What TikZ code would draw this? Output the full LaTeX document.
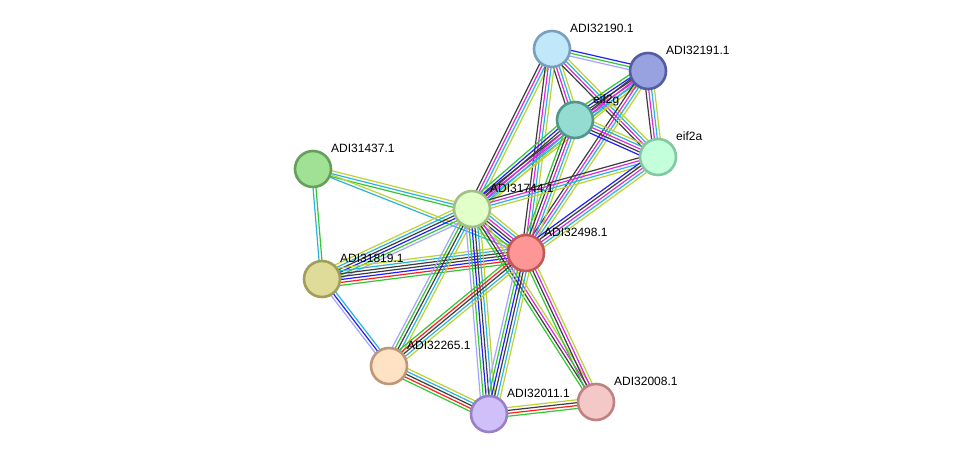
\documentclass[tikz,border=0pt]{standalone}
\usepackage{fontspec}
\setmainfont{Liberation Sans}
\usetikzlibrary{calc, backgrounds}
\definecolor{nbgreen}{RGB}{50, 200, 50}
\definecolor{fusred}{RGB}{255, 30, 30}
\definecolor{cooblue}{RGB}{30, 30, 255}
\definecolor{coexgray}{RGB}{60, 60, 60}
\definecolor{expmag}{RGB}{220, 40, 220}
\definecolor{dbcyan}{RGB}{40, 180, 220}
\definecolor{txtlime}{RGB}{190, 210, 50}
\definecolor{homlav}{RGB}{165, 165, 255}

% one STRING edge: a bundle of parallel coloured lines
\newcommand{\stredge}[3]{%
  \foreach \col [count=\i] in {#3} {\xdef\nlines{\i}}%
  \foreach \col [count=\i] in {#3} {%
    \pgfmathsetmacro\off{(\i-1-(\nlines-1)/2)*2.9}%
    \draw[link, color=\col] ($(#1)!\off pt!90:(#2)$) -- ($(#2)!\off pt!-90:(#1)$);
  }%
}

\begin{document}
\begin{tikzpicture}[
  x=1pt, y=-1pt,
  font=\fontsize{12}{14}\selectfont,
  prot/.style={circle, minimum size=36pt, inner sep=0pt, line width=2.6pt},
  lbl/.style={anchor=base west, inner sep=0pt},
  link/.style={line width=1.2pt}
]
\useasboundingbox (0,0) rectangle (975,460);

\node[prot, fill={rgb,255:red,192;green,232;blue,250}, draw={rgb,255:red,120;green,160;blue,190}] (p32190) at (552,49) {};
\node[prot, fill={rgb,255:red,152;green,162;blue,225}, draw={rgb,255:red,82;green,92;blue,160}] (p32191) at (648,71) {};
\node[prot, fill={rgb,255:red,148;green,220;blue,210}, draw={rgb,255:red,82;green,150;blue,140}] (eif2g) at (575,120) {};
\node[prot, fill={rgb,255:red,195;green,255;blue,218}, draw={rgb,255:red,130;green,200;blue,160}] (eif2a) at (658,157) {};
\node[prot, fill={rgb,255:red,160;green,225;blue,150}, draw={rgb,255:red,100;green,160;blue,90}] (p31437) at (313,169) {};
\node[prot, fill={rgb,255:red,225;green,255;blue,200}, draw={rgb,255:red,162;green,192;blue,132}] (p31744) at (472,209) {};
\node[prot, fill={rgb,255:red,255;green,150;blue,150}, draw={rgb,255:red,192;green,90;blue,90}] (p32498) at (526,253) {};
\node[prot, fill={rgb,255:red,222;green,220;blue,152}, draw={rgb,255:red,160;green,158;blue,90}] (p31819) at (322,279) {};
\node[prot, fill={rgb,255:red,255;green,225;blue,195}, draw={rgb,255:red,190;green,150;blue,120}] (p32265) at (389,366) {};
\node[prot, fill={rgb,255:red,208;green,192;blue,250}, draw={rgb,255:red,150;green,128;blue,200}] (p32011) at (489,414) {};
\node[prot, fill={rgb,255:red,245;green,200;blue,200}, draw={rgb,255:red,190;green,130;blue,130}] (p32008) at (596,402) {};

\node[lbl] (l32190) at ([shift={(18,-16.5)}]p32190.center) {ADI32190.1};
\node[lbl] (l32191) at ([shift={(18,-16.5)}]p32191.center) {ADI32191.1};
\node[lbl] (leif2g) at ([shift={(18,-16.5)}]eif2g.center) {eif2g};
\node[lbl] (leif2a) at ([shift={(18,-16.5)}]eif2a.center) {eif2a};
\node[lbl] (l31437) at ([shift={(18,-16.5)}]p31437.center) {ADI31437.1};
\node[lbl] (l31744) at ([shift={(18,-16.5)}]p31744.center) {ADI31744.1};
\node[lbl] (l32498) at ([shift={(18,-16.5)}]p32498.center) {ADI32498.1};
\node[lbl] (l31819) at ([shift={(18,-16.5)}]p31819.center) {ADI31819.1};
\node[lbl] (l32265) at ([shift={(18,-16.5)}]p32265.center) {ADI32265.1};
\node[lbl] (l32011) at ([shift={(18,-16.5)}]p32011.center) {ADI32011.1};
\node[lbl] (l32008) at ([shift={(18,-16.5)}]p32008.center) {ADI32008.1};

\begin{scope}[on background layer]
\fill[white] (0,0) rectangle (975,460);
\stredge{p32190}{p32191}{homlav, nbgreen, cooblue}
\stredge{p32190}{eif2g}{coexgray, expmag, dbcyan, txtlime}
\stredge{p32190}{eif2a}{coexgray, expmag, dbcyan, txtlime}
\stredge{p32190}{p31744}{coexgray, expmag, dbcyan, txtlime}
\stredge{p32190}{p32498}{coexgray, expmag, dbcyan, txtlime}
\stredge{p32191}{eif2g}{nbgreen, cooblue, coexgray, expmag, dbcyan, txtlime}
\stredge{p32191}{eif2a}{coexgray, expmag, dbcyan, txtlime}
\stredge{p32191}{p31744}{coexgray, expmag, dbcyan, txtlime}
\stredge{p32191}{p32498}{coexgray, expmag, dbcyan, txtlime}
\stredge{eif2g}{eif2a}{cooblue, coexgray, expmag, dbcyan, txtlime}
\stredge{eif2g}{p31744}{nbgreen, cooblue, coexgray, expmag, dbcyan, txtlime}
\stredge{eif2g}{p32498}{nbgreen, coexgray, expmag, dbcyan, txtlime}
\stredge{eif2a}{p31744}{coexgray, expmag, dbcyan, txtlime}
\stredge{eif2a}{p32498}{cooblue, coexgray, expmag, dbcyan, txtlime}
\stredge{p31437}{p31744}{nbgreen, dbcyan, txtlime}
\stredge{p31437}{p32498}{dbcyan, txtlime}
\stredge{p31437}{p31819}{dbcyan, nbgreen}
\stredge{p31819}{p31744}{homlav, nbgreen, cooblue, coexgray, dbcyan, txtlime}
\stredge{p31819}{p32498}{nbgreen, fusred, cooblue, coexgray, coexgray, dbcyan, txtlime}
\stredge{p31819}{p32265}{homlav, cooblue, dbcyan}
\stredge{p31744}{p32498}{homlav, nbgreen, cooblue, coexgray, expmag, dbcyan, txtlime}
\stredge{p31744}{p32265}{homlav, nbgreen, coexgray, dbcyan, txtlime}
\stredge{p31744}{p32011}{homlav, nbgreen, cooblue, coexgray, dbcyan, txtlime}
\stredge{p31744}{p32008}{nbgreen, coexgray, expmag, txtlime}
\stredge{p32498}{p32265}{nbgreen, fusred, coexgray, dbcyan, txtlime}
\stredge{p32498}{p32011}{homlav, nbgreen, cooblue, coexgray, dbcyan, txtlime}
\stredge{p32498}{p32008}{nbgreen, coexgray, expmag, txtlime}
\stredge{p32265}{p32011}{nbgreen, fusred, coexgray, dbcyan, txtlime}
\stredge{p32011}{p32008}{nbgreen, fusred, coexgray, txtlime}
\end{scope}
\end{tikzpicture}
\end{document}
